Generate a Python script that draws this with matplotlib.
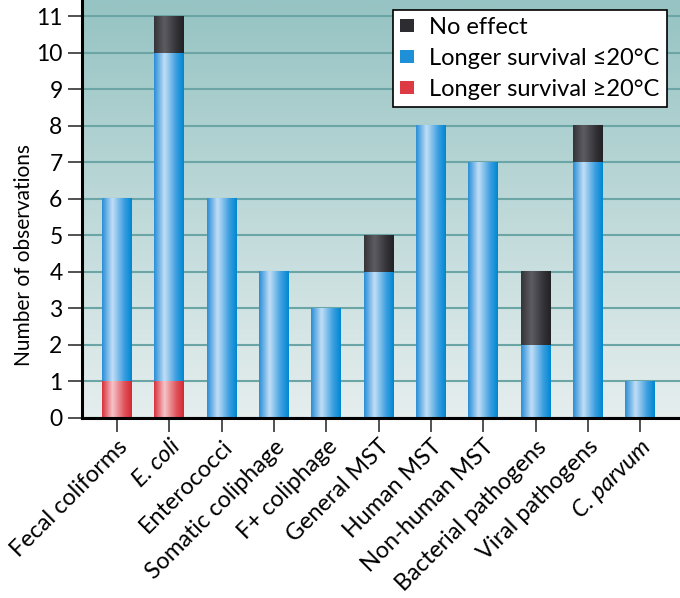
import matplotlib
matplotlib.use("Agg")
import matplotlib.pyplot as plt
from matplotlib.colors import LinearSegmentedColormap
from matplotlib.patches import Patch
import numpy as np

plt.rcParams['font.family'] = ['Lato', 'DejaVu Sans']

categories = ["Fecal coliforms", "E. coli", "Enterococci", "Somatic coliphage",
              "F+ coliphage", "General MST", "Human MST", "Non-human MST",
              "Bacterial pathogens", "Viral pathogens", "C. parvum"]
italic_labels = ["E. coli", "C. parvum"]
warm = [1, 1, 0, 0, 0, 0, 0, 0, 0, 0, 0]      # longer survival >=20C
cold = [5, 9, 6, 4, 3, 4, 8, 7, 2, 7, 1]      # longer survival <=20C
no_effect = [0, 1, 0, 0, 0, 1, 0, 0, 2, 1, 0]
legend_labels = ["No effect", "Longer survival \u226420\u00b0C", "Longer survival \u226520\u00b0C"]

# horizontal "cylinder" shading for each series
cmap_red = LinearSegmentedColormap.from_list(
    "red", [(0, "#d8323c"), (0.35, "#f6c4c8"), (0.75, "#e0545c"), (1, "#d42a34")])
cmap_blue = LinearSegmentedColormap.from_list(
    "blue", [(0, "#2a8fd8"), (0.35, "#c2def6"), (0.75, "#3a9ee0"), (1, "#0088d2")])
cmap_black = LinearSegmentedColormap.from_list(
    "black", [(0, "#343438"), (0.35, "#5c5c62"), (0.75, "#343438"), (1, "#222226")])
cmap_bg = LinearSegmentedColormap.from_list("bg", ["#e6eeee", "#96c3c3"])

fig = plt.figure(figsize=(6.8, 5.98), dpi=100)
ax = fig.add_axes([82 / 680, 180 / 598, 598 / 680, 418 / 598])

# background gradient
bg = np.linspace(0, 1, 256).reshape(-1, 1)
ax.imshow(bg, cmap=cmap_bg, origin="lower", extent=(0, 1, 0, 1),
          transform=ax.transAxes, aspect="auto", zorder=0)

x = np.arange(len(categories))
w = 0.57
grad = np.linspace(0, 1, 64).reshape(1, -1)
bottom = np.zeros(len(categories))
for vals, cm in [(warm, cmap_red), (cold, cmap_blue), (no_effect, cmap_black)]:
    for xi, b, v in zip(x, bottom, vals):
        if v > 0:
            ax.imshow(grad, cmap=cm, extent=(xi - w / 2, xi + w / 2, b, b + v),
                      aspect="auto", zorder=3, interpolation="bilinear")
    bottom = bottom + np.array(vals)

ax.set_xlim(-0.67, 10.76)
ax.set_ylim(0, 11.44)
ax.set_aspect("auto")

ax.set_yticks(range(0, 12))
ax.yaxis.grid(True, color="#6ba5a5", lw=1.5)
ax.set_axisbelow(True)
for s in ["top", "right"]:
    ax.spines[s].set_visible(False)
for s in ["left", "bottom"]:
    ax.spines[s].set_linewidth(2.2)
    ax.spines[s].set_zorder(5)

ax.set_xticks(x)
ax.set_xticklabels(categories, rotation=45, ha="right", rotation_mode="anchor")
for lab in ax.get_xticklabels():
    if lab.get_text() in italic_labels:
        lab.set_style("italic")
ax.tick_params(axis="both", direction="out", length=10, width=1.1,
               color="#222222", pad=4)
ax.tick_params(axis="x", labelsize=16.8, pad=3)
ax.tick_params(axis="y", labelsize=16.5)
ax.set_ylabel("Number of observations", fontsize=15)
ax.yaxis.set_label_coords(-0.08, 0.39)

handles = [Patch(facecolor="#2d2d31"), Patch(facecolor="#1e90d8"),
           Patch(facecolor="#dd3a44")]
leg = ax.legend(handles, legend_labels, loc="upper right",
                bbox_to_anchor=(0.978, 0.976), borderaxespad=0, fontsize=17,
                handlelength=0.6, handleheight=0.45, handletextpad=0.65,
                labelspacing=0.42, borderpad=0.3, fancybox=False,
                framealpha=1, edgecolor="black", facecolor="white")
leg.get_frame().set_linewidth(1.2)
leg.set_zorder(10)

fig.savefig("out.png", dpi=100)
